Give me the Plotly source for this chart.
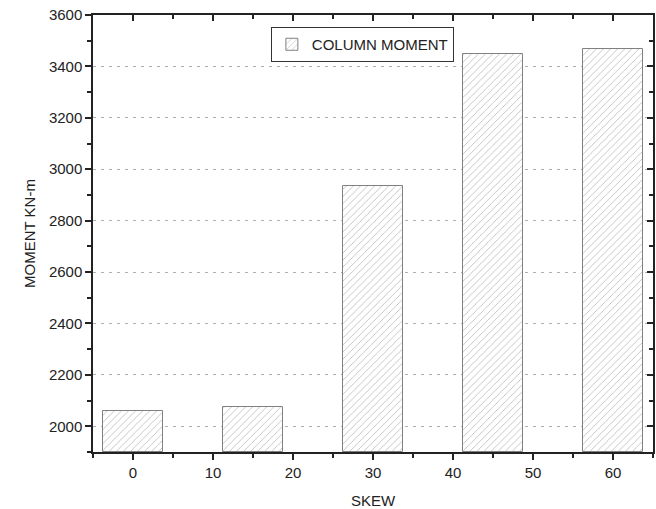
import plotly.graph_objects as go

skew = [0, 15, 30, 45, 60]
moment = [2061, 2077, 2935, 3448, 3466]
series_name = "COLUMN MOMENT"
x_title = "SKEW"
y_title = "MOMENT KN-m"
y_floor = 1900

FONT = "Liberation Sans, Arial, sans-serif"

fig = go.Figure()
fig.add_trace(go.Bar(
    x=skew, y=[v - y_floor for v in moment], base=y_floor, width=7.5, name=series_name,
    marker=dict(
        color="white",
        line=dict(color="#808080", width=1),
        pattern=dict(shape="/", fgcolor="#6a6a6a", bgcolor="white", size=5, solidity=0.15),
    ),
    showlegend=True,
))

axis_common = dict(showline=True, linecolor="#222", linewidth=1.5, zeroline=False,
                   tickwidth=1.5, tickcolor="#222", ticklen=6)

fig.update_layout(
    width=656, height=509,
    margin=dict(l=93, r=3, t=15, b=57),
    plot_bgcolor="white", paper_bgcolor="white",
    font=dict(family=FONT, size=15, color="#222"),
    showlegend=True,
    legend=dict(
        x=0.481, y=0.9725, xanchor="center", yanchor="top",
        bordercolor="#333", borderwidth=1, bgcolor="white",
        font=dict(size=15, color="#222"),
        itemwidth=30,
    ),
    xaxis=dict(
        range=[-5, 65], tick0=0, dtick=10, showgrid=False,
        ticks="outside",
        minor=dict(ticks="outside", ticklen=4, dtick=5, tick0=0, tickcolor="#222", tickwidth=1.5, showgrid=False),
        title=dict(text=x_title, standoff=16, font=dict(size=15)),
        tickfont=dict(size=15),
        **axis_common,
    ),
    yaxis=dict(
        range=[y_floor, 3600], tick0=2000, dtick=200,
        showgrid=True, gridcolor="#b0b0b0", gridwidth=1, griddash="3px,5px",
        ticks="outside",
        minor=dict(ticks="outside", ticklen=4, dtick=100, tick0=2000, tickcolor="#222", tickwidth=1.5, showgrid=False),
        title=dict(text=y_title, standoff=10, font=dict(size=15)),
        tickfont=dict(size=15),
        **axis_common,
    ),
    xaxis2=dict(
        overlaying="x", side="top", anchor="y", range=[-5, 65], tick0=0, dtick=10,
        showgrid=False, showticklabels=False, ticks="inside",
        minor=dict(ticks="inside", ticklen=4, dtick=5, tick0=0, tickcolor="#222", tickwidth=1.5),
        **axis_common,
    ),
    yaxis2=dict(
        overlaying="y", side="right", anchor="x", range=[y_floor, 3600], tick0=2000, dtick=200,
        showgrid=False, showticklabels=False, ticks="inside",
        minor=dict(ticks="inside", ticklen=4, dtick=100, tick0=2000, tickcolor="#222", tickwidth=1.5),
        **axis_common,
    ),
    bargap=0,
)
fig.add_trace(go.Scatter(x=[None], y=[None], xaxis="x2", yaxis="y2", showlegend=False, hoverinfo="skip"))

fig.write_html("out.html")
